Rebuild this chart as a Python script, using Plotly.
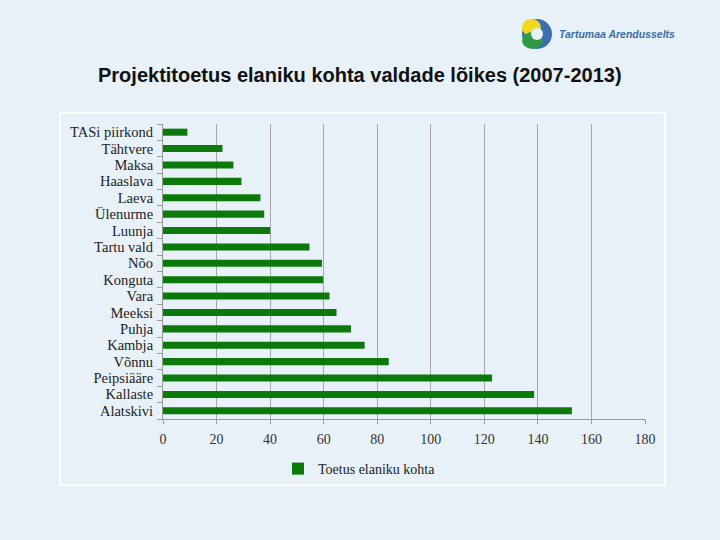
import plotly.graph_objects as go

categories = ["TASi piirkond", "Tähtvere", "Maksa", "Haaslava", "Laeva", "Ülenurme",
              "Luunja", "Tartu vald", "Nõo", "Konguta", "Vara", "Meeksi", "Puhja",
              "Kambja", "Võnnu", "Peipsiääre", "Kallaste", "Alatskivi"]
values = [9.1, 22.2, 26.3, 29.3, 36.4, 37.8, 40.0, 54.7, 59.4, 59.8, 62.2, 64.8,
          70.2, 75.3, 84.3, 122.9, 138.6, 152.7]
x_ticks = [0, 20, 40, 60, 80, 100, 120, 140, 160, 180]
series_name = "Toetus elaniku kohta"
title_text = "Projektitoetus elaniku kohta valdade lõikes (2007-2013)"
logo_text = "Tartumaa Arendusselts"

bg = "#e8f1f8"
bar_color = "#0b7a0b"
serif = "Liberation Serif, Times New Roman, serif"

PL, PR, PT, PB = 163, 645, 124, 419


def px(xp):
    return (xp - PL) / (PR - PL)


def py(yp):
    return (PB - yp) / (PB - PT)


fig = go.Figure()
fig.add_trace(go.Bar(
    x=values, y=categories, orientation="h", name=series_name,
    marker=dict(color=bar_color, line=dict(width=0)),
    showlegend=True,
))

fig.update_layout(
    width=720, height=540,
    paper_bgcolor=bg, plot_bgcolor=bg,
    margin=dict(l=PL, r=720 - PR, t=PT, b=540 - PB),
    bargap=0.57,
    font=dict(family=serif, size=14, color="#222222"),
    showlegend=True,
    legend=dict(orientation="h", x=px(278), y=py(453), xanchor="left", yanchor="top",
                bgcolor="rgba(0,0,0,0)", font=dict(size=14, family=serif),
                itemwidth=30),
)

fig.update_xaxes(
    range=[0, 180], tickvals=x_ticks, ticktext=[str(v) for v in x_ticks],
    showgrid=True, gridcolor="#a8a8a8", gridwidth=1,
    showline=True, linecolor="#9a9a9a", linewidth=1,
    ticks="outside", ticklen=4, tickcolor="#9a9a9a",
    ticklabelstandoff=3,
    zeroline=False, fixedrange=True,
    tickfont=dict(family=serif, size=14, color="#333333"),
)
fig.update_yaxes(
    categoryorder="array", categoryarray=categories, autorange="reversed",
    tickmode="array", tickvals=categories, ticktext=categories,
    showline=True, linecolor="#9a9a9a", linewidth=1,
    ticks="outside", ticklen=5, tickcolor="#9a9a9a", tickson="boundaries",
    ticklabelstandoff=6,
    showgrid=False, fixedrange=True,
    tickfont=dict(family=serif, size=14.5, color="#222222"),
)

# chart box border
fig.add_shape(type="rect", xref="paper", yref="paper",
              x0=px(60), x1=px(665), y0=py(485), y1=py(113),
              line=dict(color="#ffffff", width=1.5), fillcolor="rgba(0,0,0,0)", layer="below")

# title
fig.add_annotation(text="<b>" + title_text + "</b>", xref="paper", yref="paper",
                   x=px(360), y=py(75), xanchor="center", yanchor="middle",
                   showarrow=False,
                   font=dict(family="Liberation Sans, Arial, sans-serif", size=20, color="#111111"))

# logo
lx, ly = 537, 34
fig.add_shape(type="circle", xref="paper", yref="paper",
              x0=px(lx - 15), x1=px(lx + 15), y0=py(ly + 15), y1=py(ly - 15),
              fillcolor="#3a6fb0", line=dict(width=0))
fig.add_shape(type="circle", xref="paper", yref="paper",
              x0=px(lx - 15), x1=px(lx + 4), y0=py(ly + 2), y1=py(ly - 15),
              fillcolor="#f2d81c", line=dict(width=0))
fig.add_shape(type="circle", xref="paper", yref="paper",
              x0=px(lx - 15), x1=px(lx + 6), y0=py(ly + 15), y1=py(ly - 2),
              fillcolor="#2e9a45", line=dict(width=0))
fig.add_shape(type="circle", xref="paper", yref="paper",
              x0=px(lx - 6), x1=px(lx + 6), y0=py(ly + 6), y1=py(ly - 6),
              fillcolor=bg, line=dict(width=0))
fig.add_annotation(text="<b><i>" + logo_text + "</i></b>", xref="paper", yref="paper",
                   x=px(557), y=py(34), xanchor="left", yanchor="middle", showarrow=False,
                   font=dict(family="Liberation Sans, Arial, sans-serif", size=10.5, color="#3a6ea5"))

fig.write_html("out.html", config={"displayModeBar": False},
               post_script="document.body.style.margin='0';document.body.style.background='" + bg + "';")
